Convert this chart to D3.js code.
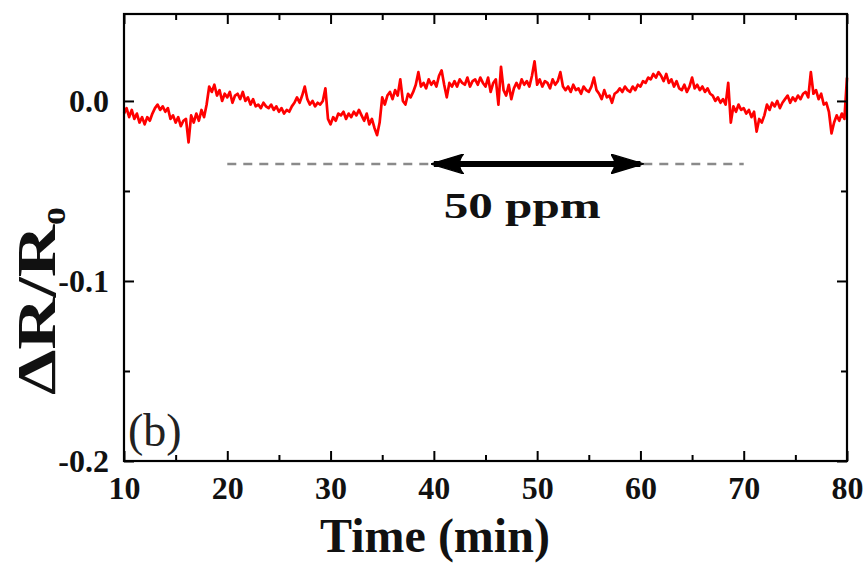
<!DOCTYPE html>
<html>
<head>
<meta charset="utf-8">
<script src="https://cdn.jsdelivr.net/npm/d3@7"></script>
<style>
  body { margin: 0; background: #fff; }
  svg { display: block; }
  text { font-family: "Liberation Serif", "Times New Roman", serif; }
</style>
</head>
<body>
<svg id="chart" width="867" height="566"></svg>
<script>
// ---------------- data ----------------
// time grid (min): 10 → 80, one reading every 0.25 min
const timeStart = 10, timeStep = 0.25;
// ΔR/Ro readings, in units of 1e-3
const responseMilli = [
  -7, -4, -9, -5,   -10, -7, -12, -9,   -13, -9, -11, -7,   -4, -2, -5, -3,
  -6, -4, -10, -8,  -12, -9, -14, -11,  -10, -23, -8, -12,  -7, -11, -5, -9,
  -2, 8, 5, 9,      3, 6, 0, 4,         2, 5, -1, 3,        4, 1, 5, 0,
  2, -2, 1, -3,     -2, -4, -1, -3,     -4, -2, -5, -3,     -6, -4, -7, -5,
  -6, -3, -1, 2,    -1, 3, 8, 1,        -2, 0, -3, -1,      -2, 0, 7, -10,
  -13, -9, -11, -7, -8, -6, -10, -7,    -9, -6, -8, -5,     -8, -11, -7, -13,
  -10, -15, -19, -12, 2, -2, 3, 5,      1, 6, 3, 12,        0, -2, 4, 2,
  5, 9, 16, 8,      10, 7, 12, 9,       11, 8, 14, 17,      9, 2, 10, 8,
  11, 8, 12, 10,    9, 13, 8, 11,       12, 9, 13, 10,      8, 13, 5, 10,
  12, -2, 19, 6,    3, 9, 1, 7,         10, 7, 12, 9,       11, 8, 14, 22,
  9, 12, 8, 11,     10, 7, 12, 9,       11, 16, 8, 6,       8, 5, 9, 6,
  7, 4, 8, 6,       5, 8, 13, 6,        4, 1, 6, 2,         3, -1, 4, 5,
  7, 5, 8, 6,       5, 8, 6, 9,         8, 11, 10, 13,      12, 15, 13, 16,
  14, 11, 15, 10,   12, 8, 11, 7,       6, 9, 5, 8,         13, 7, 9, 6,
  8, 5, 7, 4,       3, 0, 2, -1,        1, -2, 10, -12,     -3, -6, -2, -5,
  -4, -7, -5, -9,   -6, -17, -10, -12,  -8, -2, -5, -1,     -3, 0, -4, -1,
  1, 3, -1, 2,      0, 3, 1, 4,         5, 2, 16, 4,        6, 1, 4, -2,
  -1, -6, -18, -12, -8, -11, -7, -10,
  13
];
const series = responseMilli.map((v, i) => ({ t: timeStart + i * timeStep, v: v / 1000 }));

const xMajorTicks = [10, 20, 30, 40, 50, 60, 70, 80];
const xMinorTicks = [15, 25, 35, 45, 55, 65, 75];
const yMajorTicks = [0.0, -0.1, -0.2];
const yMinorTicks = [-0.05, -0.15];
const yTickLabels = ["0.0", "-0.1", "-0.2"];

// annotation: exposure window
const exposureStart = 40, exposureEnd = 60;   // arrow
const guideStart = 20, guideEnd = 70;         // dashed guide
const guideLevel = -0.035;
const exposureLabel = "50 ppm";
const panelLabel = "(b)";
const xTitle = "Time (min)";

// ---------------- layout ----------------
const svg = d3.select("#chart");
const L = 124, R = 847, T = 14, B = 461;
const x = d3.scaleLinear().domain([10, 80]).range([L, R]);
const y = d3.scaleLinear().domain([-0.2, 0.0483]).range([B, T]);

// data line
const line = d3.line().x(d => x(d.t)).y(d => y(d.v));
svg.append("path").datum(series)
  .attr("d", line)
  .attr("fill", "none")
  .attr("stroke", "#ff0000")
  .attr("stroke-width", 2.7)
  .attr("stroke-linejoin", "round");

// axes (ticks inward on all sides)
const major = 10, minor = 6;
function styleAxis(g) {
  g.select(".domain").remove();
  g.selectAll(".tick line").attr("stroke", "#000").attr("stroke-width", 2);
}
svg.append("g").attr("transform", `translate(0,${B})`)
  .call(d3.axisBottom(x).tickValues(xMajorTicks).tickSize(-major).tickFormat(d3.format("d")))
  .call(styleAxis)
  .call(g => g.selectAll(".tick text")
    .attr("y", 38).attr("dy", 0)
    .attr("font-size", 32).attr("font-weight", "bold").attr("fill", "#111"));
svg.append("g").attr("transform", `translate(0,${B})`)
  .call(d3.axisBottom(x).tickValues(xMinorTicks).tickSize(-minor).tickFormat(""))
  .call(styleAxis);
svg.append("g").attr("transform", `translate(0,${T})`)
  .call(d3.axisTop(x).tickValues(xMajorTicks).tickSize(-major).tickFormat(""))
  .call(styleAxis);
svg.append("g").attr("transform", `translate(0,${T})`)
  .call(d3.axisTop(x).tickValues(xMinorTicks).tickSize(-minor).tickFormat(""))
  .call(styleAxis);
svg.append("g").attr("transform", `translate(${L},0)`)
  .call(d3.axisLeft(y).tickValues(yMajorTicks).tickSize(-major)
    .tickFormat((d, i) => yTickLabels[i]))
  .call(styleAxis)
  .call(g => g.selectAll(".tick text")
    .attr("x", -15).attr("dy", "0.34em")
    .attr("font-size", 32).attr("font-weight", "bold").attr("fill", "#111"));
svg.append("g").attr("transform", `translate(${L},0)`)
  .call(d3.axisLeft(y).tickValues(yMinorTicks).tickSize(-minor).tickFormat(""))
  .call(styleAxis);
svg.append("g").attr("transform", `translate(${R},0)`)
  .call(d3.axisRight(y).tickValues(yMajorTicks).tickSize(-major).tickFormat(""))
  .call(styleAxis);
svg.append("g").attr("transform", `translate(${R},0)`)
  .call(d3.axisRight(y).tickValues(yMinorTicks).tickSize(-minor).tickFormat(""))
  .call(styleAxis);

// frame
svg.append("rect")
  .attr("x", L).attr("y", T).attr("width", R - L).attr("height", B - T)
  .attr("fill", "none").attr("stroke", "#000").attr("stroke-width", 2.2);

// dashed guide
svg.append("line")
  .attr("x1", x(guideStart)).attr("x2", x(guideEnd))
  .attr("y1", y(guideLevel)).attr("y2", y(guideLevel))
  .attr("stroke", "#8a8a8a").attr("stroke-width", 2.5)
  .attr("stroke-dasharray", "9,7");

// double arrow
const defs = svg.append("defs");
["s", "e"].forEach(k => {
  defs.append("marker")
    .attr("id", "arr" + k)
    .attr("viewBox", "0 0 10 6")
    .attr("refX", 9).attr("refY", 3)
    .attr("markerWidth", 5.5).attr("markerHeight", 3.3)
    .attr("markerUnits", "strokeWidth")
    .attr("orient", k === "e" ? "auto" : "auto-start-reverse")
    .append("path")
    .attr("d", "M0,0 L10,3 L0,6 Q2.5,3 0,0 Z")
    .attr("fill", "#000")
    .attr("stroke", "#000").attr("stroke-width", 0.4).attr("stroke-linejoin", "round");
});
svg.append("line")
  .attr("x1", x(exposureStart)).attr("x2", x(exposureEnd))
  .attr("y1", y(guideLevel)).attr("y2", y(guideLevel))
  .attr("stroke", "#000").attr("stroke-width", 6)
  .attr("marker-start", "url(#arrs)")
  .attr("marker-end", "url(#arre)");

svg.append("text")
  .attr("x", (x(exposureStart) + x(exposureEnd)) / 2 - 15)
  .attr("y", y(guideLevel) + 54)
  .attr("text-anchor", "middle")
  .attr("font-size", 36).attr("font-weight", "bold").attr("fill", "#111")
  .attr("textLength", 157).attr("lengthAdjust", "spacingAndGlyphs")
  .text(exposureLabel);

// panel label
svg.append("text")
  .attr("x", L + 4).attr("y", B - 15)
  .attr("font-size", 46).attr("fill", "#222")
  .text(panelLabel);

// axis titles
svg.append("text")
  .attr("x", 435).attr("y", 552)
  .attr("text-anchor", "middle")
  .attr("font-size", 48).attr("font-weight", "bold").attr("fill", "#111")
  .text(xTitle);

const yt = svg.append("text")
  .attr("transform", `translate(55,${395}) rotate(-90)`)
  .attr("text-anchor", "start")
  .attr("font-size", 54).attr("font-weight", "bold").attr("fill", "#111");
yt.append("tspan").attr("textLength", 170).attr("lengthAdjust", "spacingAndGlyphs").text("ΔR/R");
yt.append("tspan").attr("dy", 10).attr("font-size", 36).text("o");
</script>
</body>
</html>
